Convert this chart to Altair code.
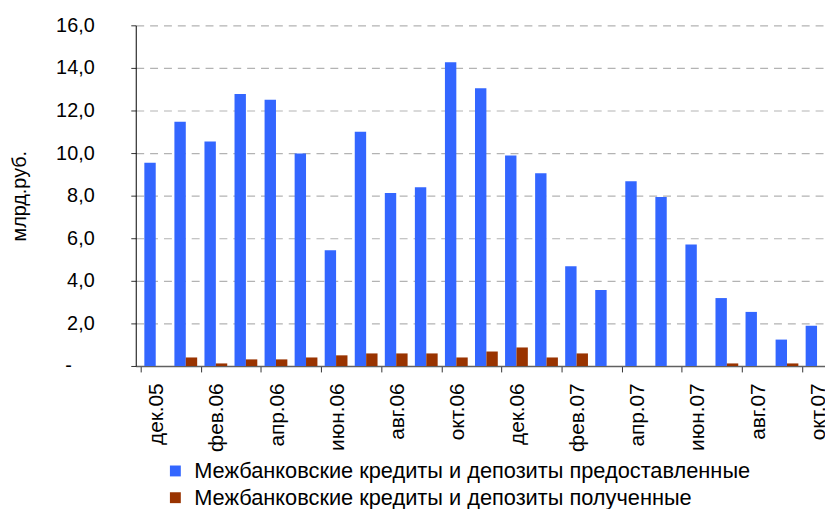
import json
import altair as alt
import pandas as pd

months = ["дек.05", "янв.06", "фев.06", "мар.06", "апр.06", "май.06", "июн.06",
          "июл.06", "авг.06", "сен.06", "окт.06", "ноя.06", "дек.06", "янв.07",
          "фев.07", "мар.07", "апр.07", "май.07", "июн.07", "июл.07", "авг.07",
          "сен.07", "окт.07"]
provided = [9.55, 11.47, 10.54, 12.78, 12.50, 9.98, 5.43, 11.00, 8.12, 8.40, 14.26,
            13.05, 9.89, 9.05, 4.68, 3.57, 8.68, 7.94, 5.71, 3.19, 2.54, 1.24, 1.89]
received = [0.0, 0.40, 0.12, 0.31, 0.31, 0.40, 0.50, 0.59, 0.59, 0.59, 0.40,
            0.68, 0.87, 0.40, 0.59, 0.0, 0.0, 0.0, 0.0, 0.12, 0.0, 0.12, 0.0]
series_names = ["Межбанковские кредиты и депозиты предоставленные",
                "Межбанковские кредиты и депозиты полученные"]
colors = ["#3366FF", "#993300"]
y_title = "млрд.руб."

rows = []
for i, m in enumerate(months):
    rows.append({"idx": i, "center": i + 0.5, "month": m, "series": series_names[0], "value": provided[i]})
    rows.append({"idx": i, "center": i + 0.5, "month": m, "series": series_names[1], "value": received[i]})
df = pd.DataFrame(rows)

FONT = "Liberation Sans"
PLOT_W = 696
PLOT_H = 344
X_MAX = 22.6
CAT_W = PLOT_W / X_MAX
BAR_W = 11.5

label_expr = json.dumps(months, ensure_ascii=False) + "[datum.value]"

x_enc = alt.X(
    "center:Q",
    scale=alt.Scale(domain=[0, X_MAX], nice=False, zero=False),
    axis=alt.Axis(
        values=list(range(0, len(months), 2)),
        labelExpr=label_expr,
        labelOffset=CAT_W / 2 + 1,
        labelAngle=-90,
        labelAlign="right",
        labelBaseline="middle",
        labelFontSize=21,
        labelColor="#000000",
        labelPadding=11,
        labelFlush=False,
        labelOverlap=False,
        tickSize=6,
        tickColor="#333333",
        domainColor="#606060",
        domainWidth=1.5,
        grid=False,
        title=None,
    ),
)

y_enc = alt.Y(
    "value:Q",
    scale=alt.Scale(domain=[0, 16], nice=False),
    axis=alt.Axis(
        values=list(range(0, 17, 2)),
        labelExpr="datum.value == 0 ? '-' : replace(format(datum.value, '.1f'), '.', ',')",
        labelFontSize=20,
        labelColor="#000000",
        labelPadding={"condition": {"test": "datum.value == 0", "value": 60}, "value": 37},
        tickSize=5,
        tickColor="#333333",
        domainColor="#000000",
        domainWidth=1,
        grid=True,
        gridColor="#b3b3b3",
        gridDash=[8, 6],
        gridWidth=1.2,
        title=y_title,
        titleFontSize=20,
        titleFontWeight="normal",
        titleColor="#000000",
        titleAngle=270,
        titleAlign="center",
        titleBaseline="alphabetic",
        titleX=-111,
        titleY=PLOT_H / 2,
    ),
)

color_enc = alt.Color(
    "series:N",
    scale=alt.Scale(domain=series_names, range=colors),
    legend=alt.Legend(
        orient="none",
        legendX=29,
        legendY=439,
        title=None,
        symbolType="square",
        symbolSize=121,
        symbolStrokeWidth=0,
        symbolOpacity=1,
        labelFontSize=22,
        labelColor="#000000",
        labelOffset=8,
        rowPadding=5,
        padding=0,
        labelLimit=800,
        direction="vertical",
    ),
)

base = alt.Chart(df)
blue = base.transform_filter(alt.datum.series == series_names[0]).mark_bar(
    width=BAR_W, xOffset=-BAR_W / 2
).encode(x=x_enc, y=y_enc, color=color_enc)
brown = base.transform_filter(alt.datum.series == series_names[1]).mark_bar(
    width=BAR_W, xOffset=BAR_W / 2
).encode(x=x_enc, y=y_enc, color=color_enc)

chart = alt.layer(blue, brown).properties(
    width=PLOT_W,
    height=PLOT_H,
    autosize=alt.AutoSizeParams(type="none"),
    padding={"left": 129, "top": 15, "right": 0, "bottom": 150},
).configure(
    font=FONT,
).configure_view(
    stroke=None,
).configure_axis(
    labelFont=FONT,
    titleFont=FONT,
).configure_legend(
    labelFont=FONT,
)

chart.save("out.html", embed_options={"renderer": "svg", "actions": False})
